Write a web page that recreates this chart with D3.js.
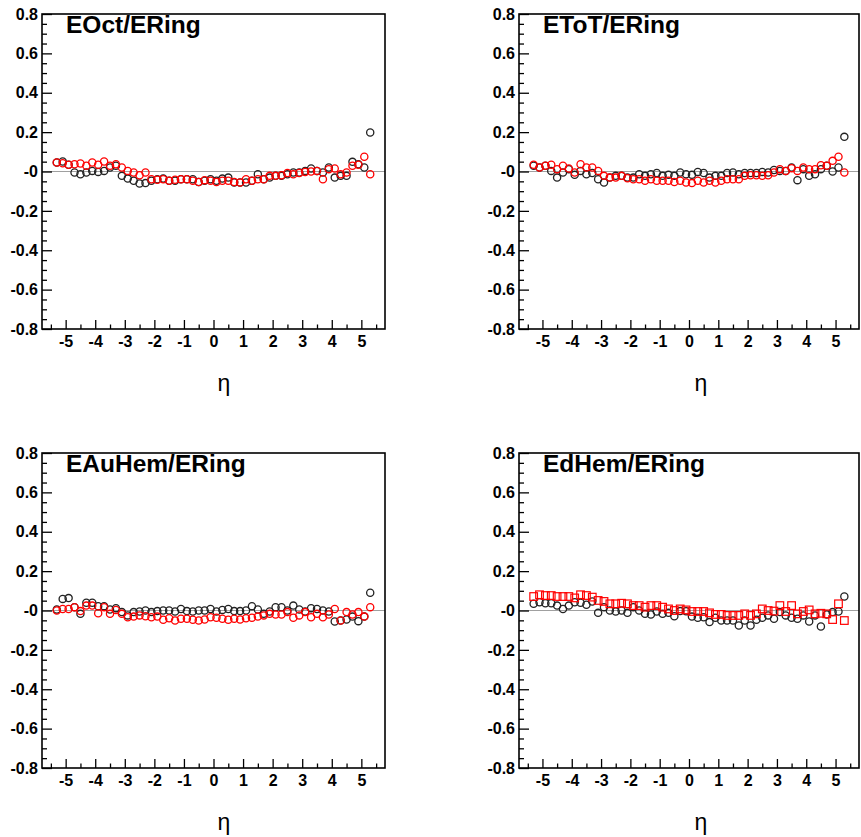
<!DOCTYPE html>
<html>
<head>
<meta charset="utf-8">
<script src="https://cdn.jsdelivr.net/npm/d3@7/dist/d3.min.js"></script>
<style>
  html, body { margin: 0; padding: 0; background: #fff; }
  svg { display: block; }
  text { font-family: "Liberation Sans", Arial, Helvetica, sans-serif; }
</style>
</head>
<body>
<svg id="chart" width="861" height="837"></svg>
<script>
// Pseudorapidity bin centres
const eta = [-5.3, -5.1, -4.9, -4.7, -4.5, -4.3, -4.1, -3.9, -3.7, -3.5,
             -3.3, -3.1, -2.9, -2.7, -2.5, -2.3, -2.1, -1.9, -1.7, -1.5,
             -1.3, -1.1, -0.9, -0.7, -0.5, -0.3, -0.1, 0.1, 0.3, 0.5,
             0.7, 0.9, 1.1, 1.3, 1.5, 1.7, 1.9, 2.1, 2.3, 2.5,
             2.7, 2.9, 3.1, 3.3, 3.5, 3.7, 3.9, 4.1, 4.3, 4.5,
             4.7, 4.9, 5.1, 5.3];

// EOct/ERing
const octBlack = [0.046, 0.051, 0.034, -0.005, -0.014, -0.005, 0.003, -0.002, 0.003, 0.02,
                  0.029, -0.022, -0.036, -0.047, -0.061, -0.059, -0.047, -0.039, -0.036, -0.047,
                  -0.047, -0.039, -0.039, -0.039, -0.053, -0.047, -0.039, -0.047, -0.036, -0.031,
                  -0.056, -0.056, -0.056, -0.047, -0.014, -0.039, -0.031, -0.022, -0.022, -0.014,
                  -0.005, -0.005, 0.003, 0.015, 0.003, -0.005, 0.02, -0.031, -0.022, -0.022,
                  0.049, 0.037, 0.02, 0.198];
const octRed = [0.046, 0.042, 0.034, 0.037, 0.041, 0.029, 0.046, 0.034, 0.051, 0.029,
                0.037, 0.02, 0.003, -0.005, -0.019, -0.005, -0.039, -0.042, -0.039, -0.047,
                -0.042, -0.039, -0.039, -0.047, -0.053, -0.044, -0.047, -0.053, -0.047, -0.047,
                -0.053, -0.056, -0.039, -0.047, -0.039, -0.039, -0.022, -0.022, -0.019, -0.008,
                -0.014, -0.008, -0.002, 0, 0.003, -0.039, 0.012, 0.015, -0.014, -0.005,
                0.029, 0.034, 0.075, -0.014];

// EToT/ERing
const totBlack = [0.029, 0.02, 0.029, 0.003, -0.031, -0.005, 0.012, -0.017, 0.003, -0.014,
                  -0.008, -0.039, -0.056, -0.031, -0.022, -0.022, -0.031, -0.031, -0.014, -0.022,
                  -0.014, -0.008, -0.022, -0.017, -0.022, -0.005, -0.014, -0.017, -0.002, -0.008,
                  -0.031, -0.022, -0.022, -0.008, -0.005, -0.014, -0.008, -0.008, -0.008, -0.002,
                  -0.005, 0.008, 0.003, 0.003, 0.02, -0.044, 0.012, -0.022, -0.014, 0.012,
                  0.029, 0, 0.02, 0.176];
const totRed = [0.034, 0.02, 0.029, 0.034, 0.012, 0.029, 0.015, -0.005, 0.037, 0.02,
                0.02, 0.003, -0.022, -0.031, -0.031, -0.022, -0.034, -0.039, -0.039, -0.047,
                -0.039, -0.047, -0.047, -0.047, -0.053, -0.047, -0.056, -0.059, -0.047, -0.056,
                -0.047, -0.056, -0.047, -0.039, -0.039, -0.039, -0.022, -0.019, -0.019, -0.022,
                -0.019, -0.005, 0.012, 0.003, 0.017, 0.003, 0.02, 0.012, 0.012, 0.032,
                0.029, 0.054, 0.075, -0.005];

// EAuHem/ERing
const auBlack = [0.005, 0.059, 0.063, 0.017, -0.017, 0.039, 0.039, 0.022, 0.022, 0.005,
                 0.012, -0.008, -0.025, -0.008, -0.005, 0, -0.008, -0.003, 0, 0,
                 -0.005, 0.008, -0.003, -0.005, 0, 0, 0.008, -0.005, 0.003, 0.008,
                 -0.003, -0.003, 0, 0.022, 0.005, -0.017, -0.005, 0.017, 0.017, 0,
                 0.025, 0.005, -0.005, 0.012, 0.008, 0, -0.005, -0.056, -0.051, -0.046,
                 -0.031, -0.054, -0.031, 0.09];
const auRed = [0, 0.008, 0.008, 0.017, -0.003, 0.025, 0.025, -0.014, 0.017, -0.017,
               0.003, -0.017, -0.034, -0.031, -0.025, -0.029, -0.034, -0.031, -0.047, -0.039,
               -0.051, -0.042, -0.042, -0.047, -0.051, -0.046, -0.034, -0.037, -0.042, -0.047,
               -0.042, -0.046, -0.039, -0.037, -0.031, -0.025, -0.017, -0.020, -0.020, -0.008,
               -0.037, -0.025, -0.008, -0.034, -0.017, -0.034, -0.020, 0.008, -0.051, -0.008,
               -0.020, -0.008, -0.031, 0.017];

// EdHem/ERing
const dBlack = [0.034, 0.042, 0.037, 0.037, 0.025, 0.008, 0.025, 0.042, 0.039, 0.029,
                0.046, -0.012, 0.017, 0, -0.005, 0, -0.012, 0.017, 0, -0.017,
                -0.020, -0.005, -0.017, -0.012, -0.029, -0.003, -0.004, -0.031, -0.037, -0.034,
                -0.059, -0.037, -0.051, -0.051, -0.051, -0.076, -0.051, -0.076, -0.047, -0.037,
                -0.025, -0.042, -0.008, -0.025, -0.037, -0.042, -0.025, -0.056, -0.025, -0.081,
                -0.020, -0.008, -0.005, 0.071];
const dRed = [0.071, 0.08, 0.076, 0.076, 0.071, 0.071, 0.071, 0.064, 0.08, 0.076,
              0.068, 0.051, 0.046, 0.034, 0.034, 0.037, 0.034, 0.025, 0.025, 0.017,
              0.025, 0.025, 0.017, 0.008, 0, 0.008, 0.003, -0.005, -0.005, -0.005,
              -0.012, -0.020, -0.020, -0.025, -0.025, -0.025, -0.017, -0.025, -0.017, 0.008,
              0, -0.003, 0.025, -0.005, 0.025, -0.017, -0.005, 0.003, -0.017, -0.014,
              -0.017, -0.046, 0.034, -0.051];

// Axis ticks and labels
const xMajorTicks = [-5, -4, -3, -2, -1, 0, 1, 2, 3, 4, 5];
const xTickLabels = ["-5", "-4", "-3", "-2", "-1", "0", "1", "2", "3", "4", "5"];
const xMinorTicks = [-5.5, -4.5, -3.5, -2.5, -1.5, -0.5, 0.5, 1.5, 2.5, 3.5, 4.5, 5.5];
const yMajorTicks = [0.8, 0.6, 0.4, 0.2, 0, -0.2, -0.4, -0.6, -0.8];
const yTickLabels = ["0.8", "0.6", "0.4", "0.2", "-0", "-0.2", "-0.4", "-0.6", "-0.8"];
const yMinorTicks = [0.75, 0.7, 0.65, 0.55, 0.5, 0.45, 0.35, 0.3, 0.25, 0.15, 0.1, 0.05,
                     -0.05, -0.1, -0.15, -0.25, -0.3, -0.35, -0.45, -0.5, -0.55,
                     -0.65, -0.7, -0.75];

const panels = [
  { title: "EOct/ERing",   black: octBlack, red: octRed, redShape: "circle",
    box: { x0: 42,  x1: 385, y0: 14,  y1: 329 } },
  { title: "EToT/ERing",   black: totBlack, red: totRed, redShape: "circle",
    box: { x0: 519, x1: 859, y0: 14,  y1: 329 } },
  { title: "EAuHem/ERing", black: auBlack,  red: auRed,  redShape: "circle",
    box: { x0: 42,  x1: 385, y0: 453, y1: 768 } },
  { title: "EdHem/ERing",  black: dBlack,   red: dRed,   redShape: "square",
    box: { x0: 519, x1: 859, y0: 453, y1: 768 } }
];

const svg = d3.select("#chart");

panels.forEach(p => {
  const b = p.box;
  const x = d3.scaleLinear().domain([-5.8, 5.8]).range([b.x0, b.x1]);
  const y = d3.scaleLinear().domain([-0.8, 0.8]).range([b.y1, b.y0]);
  const g = svg.append("g");

  // reference line at zero
  g.append("line")
    .attr("x1", b.x0).attr("x2", b.x1)
    .attr("y1", y(0)).attr("y2", y(0))
    .attr("stroke", "#a0a0a0").attr("stroke-width", 1);

  // x axis: inward major + minor ticks
  const xAxis = d3.axisBottom(x).tickValues(xMajorTicks)
    .tickSizeInner(-9).tickSizeOuter(0).tickPadding(7)
    .tickFormat((d, i) => xTickLabels[i]);
  const gx = g.append("g").attr("transform", `translate(0,${b.y1})`).call(xAxis);
  const gxMinor = g.append("g").attr("transform", `translate(0,${b.y1})`)
    .call(d3.axisBottom(x).tickValues(xMinorTicks).tickSizeInner(-4.5).tickSizeOuter(0).tickFormat(""));

  // y axis: inward major + minor ticks
  const yAxis = d3.axisLeft(y).tickValues(yMajorTicks)
    .tickSizeInner(-10).tickSizeOuter(0).tickPadding(4)
    .tickFormat((d, i) => yTickLabels[i]);
  const gy = g.append("g").attr("transform", `translate(${b.x0},0)`).call(yAxis);
  const gyMinor = g.append("g").attr("transform", `translate(${b.x0},0)`)
    .call(d3.axisLeft(y).tickValues(yMinorTicks).tickSizeInner(-5).tickSizeOuter(0).tickFormat(""));

  [gx, gxMinor, gy, gyMinor].forEach(a => {
    a.select(".domain").remove();
    a.selectAll(".tick line").attr("stroke", "#000").attr("stroke-width", 1.3);
  });
  gx.selectAll(".tick text")
    .attr("font-size", 16).attr("font-weight", "bold").attr("fill", "#000");
  gy.selectAll(".tick text")
    .attr("font-size", 16).attr("font-weight", "bold").attr("fill", "#000");

  // frame
  g.append("rect")
    .attr("x", b.x0).attr("y", b.y0)
    .attr("width", b.x1 - b.x0).attr("height", b.y1 - b.y0)
    .attr("fill", "none").attr("stroke", "#000").attr("stroke-width", 1.6);

  // black series: open circles
  g.append("g").selectAll("circle")
    .data(eta.map((e, i) => [e, p.black[i]]))
    .join("circle")
    .attr("cx", d => x(d[0])).attr("cy", d => y(d[1]))
    .attr("r", 3.6)
    .attr("fill", "none").attr("stroke", "#222").attr("stroke-width", 1.3);

  // red series: open circles or open squares
  const redData = eta.map((e, i) => [e, p.red[i]]);
  if (p.redShape === "square") {
    g.append("g").selectAll("rect")
      .data(redData)
      .join("rect")
      .attr("x", d => x(d[0]) - 3.8).attr("y", d => y(d[1]) - 3.8)
      .attr("width", 7.6).attr("height", 7.6)
      .attr("fill", "none").attr("stroke", "#ff0000").attr("stroke-width", 1.2);
  } else {
    g.append("g").selectAll("circle")
      .data(redData)
      .join("circle")
      .attr("cx", d => x(d[0])).attr("cy", d => y(d[1]))
      .attr("r", 3.6)
      .attr("fill", "none").attr("stroke", "#ff0000").attr("stroke-width", 1.3);
  }

  // panel title
  g.append("text")
    .attr("x", b.x0 + 24).attr("y", b.y0 + 19)
    .attr("font-size", 24.5).attr("font-weight", "bold").attr("fill", "#000")
    .text(p.title);

  // axis title
  g.append("text")
    .attr("x", b.x0 + 182).attr("y", b.y1 + 62)
    .attr("text-anchor", "middle")
    .attr("font-size", 23).attr("fill", "#000")
    .text("η");
});
</script>
</body>
</html>
